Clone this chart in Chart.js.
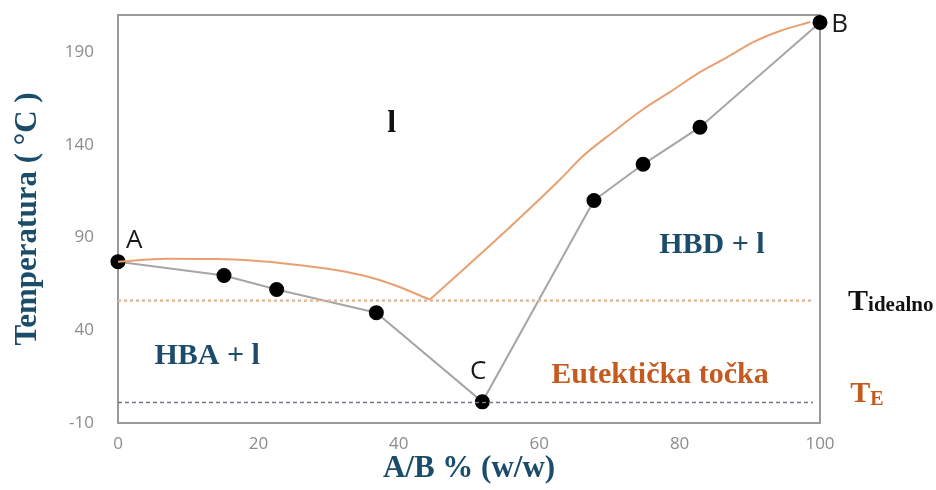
<!DOCTYPE html>
<html lang="hr">
<head>
    <meta charset="UTF-8">
    <title>Fazni dijagram HBA / HBD</title>
    <script src="https://cdn.jsdelivr.net/npm/chart.js"></script>
    <style>
        body {
            margin: 0;
            padding: 0;
            background-color: #ffffff;
        }

        #chart-box {
            width: 936px;
            height: 490px;
        }
    </style>
</head>
<body>
<div id="chart-box">
    <canvas id="phaseChart"></canvas>
</div>

<script>
    // izmjerene tocke (sivo)
    const measuredX = [0, 15.1, 22.6, 36.8, 51.9, 67.8, 74.8, 82.9, 100];
    const measuredT = [77, 69.5, 62, 49.5, 1.4, 110, 129.5, 149.5, 206];

    // idealna krivulja (narancasto), lom u tocki 44.4
    const idealX = [0, 7, 14, 19, 25, 31, 36, 40, 44.4, 50, 56, 63, 66.2, 70.5, 74.8, 78.6, 82.9, 86.8, 90.5, 94.3, 98.6];
    const idealT = [77, 78.6, 78.4, 77.6, 75.5, 72.5, 68.5, 63.5, 56.5, 75.5, 96.2, 121.4, 133.8, 146.8, 159.2, 168.4, 179.2, 187.3, 195.4, 201.4, 206.2];
    const kink = 8;

    // horizontalne linije: T idealno i T eutekticko
    const lineX = [0, 99];
    const tIdeal = 56;
    const tEutectic = 1;

    const xTicks = [0, 20, 40, 60, 80, 100];
    const yTicks = [-10, 40, 90, 140, 190];

    const teal = '#1b4d6b';
    const rust = '#c55a1e';

    document.addEventListener('DOMContentLoaded', function() {
        const ctx = document.getElementById('phaseChart').getContext('2d');

        const toPoints = (xs, ys) => xs.map((v, i) => ({ x: v, y: ys[i] }));

        // okvir + tekstovi na grafu
        const labelPlugin = {
            id: 'phaseLabels',
            beforeDatasetsDraw(chart) {
                const c = chart.ctx;
                const a = chart.chartArea;
                c.save();
                c.strokeStyle = '#9a9a9a';
                c.lineWidth = 2;
                c.strokeRect(a.left, a.top, a.right - a.left, a.bottom - a.top);
                c.restore();
            },
            afterDraw(chart) {
                const c = chart.ctx;
                const sx = chart.scales.x;
                const sy = chart.scales.y;

                function put(text, xv, yv, font, color, align, base) {
                    c.save();
                    c.font = font;
                    c.fillStyle = color;
                    c.textAlign = align || 'center';
                    c.textBaseline = base || 'middle';
                    const px = sx.getPixelForValue(xv);
                    const py = sy.getPixelForValue(yv);
                    c.fillText(text, px, py);
                    const w = c.measureText(text).width;
                    c.restore();
                    return { px: px, py: py, w: w };
                }

                const serif = 'bold 30px "Liberation Serif", serif';
                const sans = '26px "Open Sans", sans-serif';

                put('A', 2.3, 88.4, sans, '#1a1a1a');
                put('B', 102.8, 205, sans, '#1a1a1a');
                put('C', 51.3, 17.6, sans, '#1a1a1a');
                put('l', 39, 151.6, 'bold 32px "Liberation Serif", serif', '#111111');
                put('HBA + l', 12.7, 26.2, serif, teal);
                put('HBD + l', 84.6, 85.7, serif, teal);
                put('Eutektička točka', 77.2, 16, serif, rust);

                // T idealno
                let t = put('T', 104, 51.1, serif, '#111111', 'left', 'alphabetic');
                c.save();
                c.font = 'bold 21px "Liberation Serif", serif';
                c.fillStyle = '#111111';
                c.textBaseline = 'alphabetic';
                c.fillText('idealno', t.px + t.w, t.py + 1);
                c.restore();

                // T E
                t = put('T', 104.3, 1.4, serif, rust, 'left', 'alphabetic');
                c.save();
                c.font = 'bold 20px "Liberation Serif", serif';
                c.fillStyle = rust;
                c.textBaseline = 'alphabetic';
                c.fillText('E', t.px + t.w, t.py + 3);
                c.restore();
            }
        };

        const idealStyle = {
            showLine: true,
            borderColor: '#e9a070',
            borderWidth: 2,
            pointRadius: 0,
            cubicInterpolationMode: 'monotone'
        };

        new Chart(ctx, {
            type: 'scatter',
            data: {
                datasets: [
                    {
                        label: 'T idealno',
                        data: toPoints(lineX, lineX.map(() => tIdeal)),
                        showLine: true,
                        borderColor: '#e6b899',
                        borderWidth: 2.5,
                        borderDash: [3, 3],
                        pointRadius: 0
                    },
                    {
                        label: 'T eutekticko',
                        data: toPoints(lineX, lineX.map(() => tEutectic)),
                        showLine: true,
                        borderColor: '#767682',
                        borderWidth: 1.5,
                        borderDash: [4, 3],
                        pointRadius: 0
                    },
                    Object.assign({
                        label: 'Idealno HBA',
                        data: toPoints(idealX.slice(0, kink + 1), idealT.slice(0, kink + 1))
                    }, idealStyle),
                    Object.assign({
                        label: 'Idealno HBD',
                        data: toPoints(idealX.slice(kink), idealT.slice(kink))
                    }, idealStyle),
                    {
                        label: 'Izmjereno',
                        data: toPoints(measuredX, measuredT),
                        showLine: true,
                        borderColor: '#a6a6a6',
                        borderWidth: 2,
                        pointRadius: 6.5,
                        pointBackgroundColor: '#000000',
                        pointBorderColor: '#000000',
                        clip: false
                    }
                ]
            },
            options: {
                responsive: true,
                maintainAspectRatio: false,
                animation: false,
                layout: {
                    padding: { top: 15, right: 116, left: 0, bottom: 0 }
                },
                plugins: {
                    legend: { display: false },
                    tooltip: { enabled: false }
                },
                scales: {
                    x: {
                        type: 'linear',
                        min: 0,
                        max: 100,
                        afterFit: s => { s.height = 67; s.paddingLeft = 0; s.paddingRight = 0; },
                        afterBuildTicks: s => { s.ticks = xTicks.map(v => ({ value: v })); },
                        grid: { display: false },
                        border: { display: false },
                        ticks: {
                            padding: 3,
                            color: '#8c8c8c',
                            font: { family: '"Open Sans", sans-serif', size: 17 }
                        },
                        title: {
                            display: true,
                            text: 'A/B % (w/w)',
                            color: teal,
                            font: { family: '"Liberation Serif", serif', size: 31, weight: 'bold' },
                            padding: { top: 0, bottom: 2 }
                        }
                    },
                    y: {
                        type: 'linear',
                        min: -10,
                        max: 210,
                        afterFit: s => { s.width = 118; s.paddingTop = 0; s.paddingBottom = 0; },
                        afterBuildTicks: s => { s.ticks = yTicks.map(v => ({ value: v })); },
                        grid: { display: false },
                        border: { display: false },
                        ticks: {
                            padding: 16,
                            color: '#8c8c8c',
                            font: { family: '"Open Sans", sans-serif', size: 17 }
                        },
                        title: {
                            display: true,
                            text: 'Temperatura ( °C )',
                            color: teal,
                            font: { family: '"Liberation Serif", serif', size: 31, weight: 'bold' },
                            padding: { top: 9, bottom: 0 }
                        }
                    }
                }
            },
            plugins: [labelPlugin]
        });
    });
</script>
</body>
</html>
